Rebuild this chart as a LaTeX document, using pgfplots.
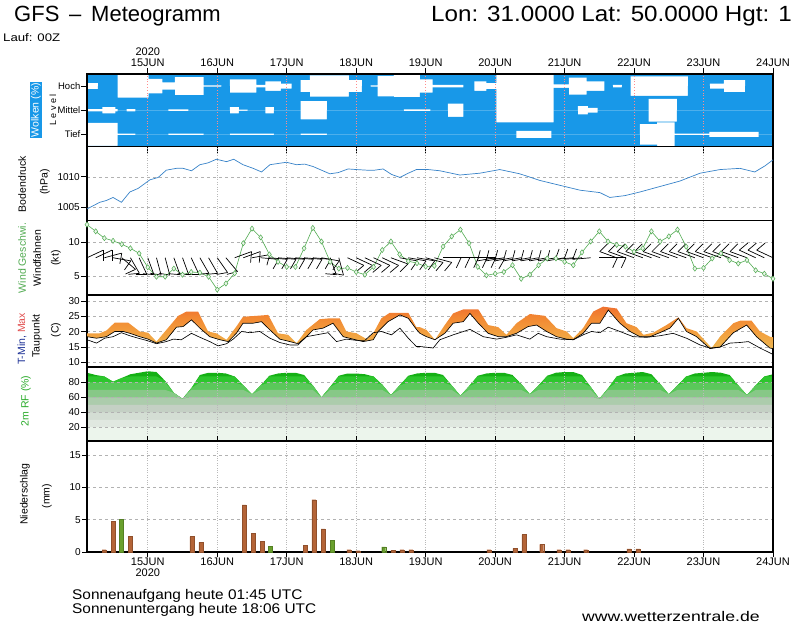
\documentclass[border=0pt]{standalone}
\usepackage{fontspec}
\setmainfont{Liberation Sans}
\usepackage{graphicx}
\usepackage{pgfplots}
\usepackage{pgfplotstable}
\pgfplotsset{compat=1.18}
\newcommand\fs[1]{\fontsize{#1}{#1}\selectfont}
\definecolor{cloudblue}{RGB}{24,152,232}
\definecolor{pblue}{RGB}{55,130,200}
\definecolor{wgreen}{RGB}{80,170,80}
\definecolor{pbrown}{RGB}{180,100,55}
\definecolor{pgreen}{RGB}{105,160,45}
\definecolor{tminblue}{RGB}{30,50,150}
\definecolor{tmaxred}{RGB}{225,80,80}
\definecolor{rfgreen}{RGB}{40,170,40}
\definecolor{tc0}{RGB}{232,190,90}
\definecolor{tc1}{RGB}{242,165,66}
\definecolor{tc2}{RGB}{242,136,50}
\definecolor{tc3}{RGB}{238,104,46}
\definecolor{tc4}{RGB}{232,64,58}
\definecolor{tc5}{RGB}{230,44,62}
\definecolor{rh20}{RGB}{236,245,236}
\definecolor{rh30}{RGB}{224,232,224}
\definecolor{rh40}{RGB}{212,222,212}
\definecolor{rh50}{RGB}{196,208,196}
\definecolor{rh60}{RGB}{172,204,172}
\definecolor{rh70}{RGB}{135,200,135}
\definecolor{rh80}{RGB}{90,200,90}
\definecolor{rh88}{RGB}{45,198,45}
\definecolor{rhdark}{RGB}{20,176,20}
\pgfdeclareverticalshading{tshade}{100bp}{color(0bp)=(tc0); color(18bp)=(tc0); color(40bp)=(tc1); color(62bp)=(tc2); color(80bp)=(tc3); color(91bp)=(tc4); color(100bp)=(tc5)}

% ---------------- data ----------------
\pgfplotstableread{
h c
3 25
6.8 0
13.6 95
24.3 60
29 30
33.4 75
43.3 5
49.4 0
52.4 55
61.5 10
64.6 40
70 20
73.7 0
76.8 50
80 88
93.5 50
98 0
101 5
103.4 85
109 92
118 55
122.4 10
133 0
136.8 40
141 25
144.4 100
164.2 15
169.5 70
175.6 40
181.7 0
184.7 10
187.8 0
190.8 80
210.6 0
218.2 20
223 50
230.4 0
240 0
}\hoch
\pgfplotstableread{
h c
3 10
8.3 25
12.8 10
13.6 0
16.7 10
19.7 0
31.1 8
38 0
52.4 25
55.5 5
58.5 0
64.6 25
67.6 0
76.8 75
85.9 0
112.5 8
121.6 0
127.7 55
133 0
144.4 100
164.2 0
172.6 35
176 20
179.4 0
197 95
206.8 0
240 0
}\mittel
\pgfplotstableread{
h c
3 95
13.6 6
19.7 0
31.1 6
43.3 0
52.4 6
67.6 0
76.8 6
85.9 0
151.3 30
163.4 0
194 85
200 100
206 6
218 22
235 0
240 0
}\tief
\pgfplotstableread{
h p
3.0 1004.7
7.4 1005.8
9.7 1006.1
12.0 1006.6
14.9 1005.8
17.8 1007.5
20.7 1008.1
24.7 1009.5
27.6 1009.9
30.4 1011.1
33.9 1011.4
36.2 1011.4
39.1 1011.0
42.0 1012.0
44.8 1012.3
47.7 1012.9
51.2 1012.5
53.7 1012.9
56.9 1012.0
60.4 1011.4
63.3 1010.8
66.2 1012.0
69.0 1012.2
71.9 1012.4
75.4 1012.0
78.2 1012.1
81.1 1011.7
84.0 1011.1
86.9 1010.5
89.8 1010.7
93.2 1011.3
96.1 1011.2
99.6 1011.1
102.4 1011.1
105.3 1011.3
108.2 1010.4
111.1 1009.9
114.0 1010.6
116.8 1011.2
120.9 1011.2
124.9 1011.0
131.8 1010.3
138.7 1010.6
145.6 1011.2
152.5 1010.5
159.5 1009.4
166.4 1008.6
173.3 1007.8
180.2 1007.4
183.6 1006.6
188.8 1006.9
194.0 1007.5
200.9 1008.4
207.8 1009.3
214.8 1010.6
221.7 1011.2
228.6 1011.4
233.7 1010.8
237.2 1011.8
240.0 1012.8
}\pres
\pgfplotstableread{
h v
3 12.6
6 11.6
9 10.6
12 10.2
15 9.7
18 9.1
21 8.35
24 6.3
27 4.9
30 4.9
33 6.1
36 5.2
39 5.6
42 5.5
45 4.9
48 3.0
51 3.9
54 5.4
57 9.85
60 12.0
63 10.7
66 8.2
69 7.1
72 6.35
75 6.35
78 9.1
81 12.1
84 10.1
87 7.1
90 6.1
93 6.2
96 5.6
99 5.2
102 6.35
105 8.85
108 10.1
111 8.2
114 7.2
117 6.9
120 6.4
123 6.5
126 9.35
129 10.85
132 11.85
135 9.85
138 6.35
141 5.1
144 5.35
147 5.6
150 6.6
153 4.6
156 5.2
159 6.6
162 7.6
165 7.6
168 7.1
171 6.6
174 8.5
177 10.1
180 11.6
183 10.1
186 9.6
189 9.35
192 8.6
195 9.1
198 11.6
201 10.1
204 10.85
207 11.85
210 9.35
213 6.1
216 6.2
219 7.6
222 8.35
225 7.35
228 6.85
231 7.35
234 5.85
237 5.35
240 4.6
}\wspd
% wind barbs: base position (h, y) and staff direction d (degrees on the page)
\pgfplotstableread{
h y d
3 7.7 25
6 7.7 25
9 7.7 15
12 7.7 -10
15 7.7 -40
18 7.7 -60
21 7.7 -65
24 7.7 -70
27 7.7 -75
30 7.7 -75
33 7.7 -70
36 7.7 -70
39 7.7 -65
42 7.7 -60
45 7.7 -60
48 7.7 -55
51 7.7 -50
54 7.7 20
57 7.7 20
60 7.7 10
63 7.7 -5
66 7.7 -5
69 7.7 -5
72 7.7 -5
75 7.7 -5
78 7.7 -5
81 7.7 -5
84 7.7 -10
87 7.7 -70
90 7.7 -75
93 7.7 -25
96 7.7 -25
99 7.7 -25
102 7.7 -25
105 7.7 -25
108 7.7 -20
111 7.7 -10
114 7.7 -10
117 7.7 -10
120 7.7 -15
123 7.7 -15
126 7.7 0
129 7.7 0
132 7.7 0
135 7.7 0
138 7.7 0
141 7.7 -5
144 7.7 190
147 7.7 190
150 7.7 190
153 7.7 190
156 7.7 190
159 7.7 190
162 7.7 190
165 7.7 190
168 7.7 190
171 7.7 185
174 7.7 185
177 7.7 185
180 7.7 0
183 7.7 0
186 7.7 160
189 7.7 160
192 7.7 160
195 7.7 160
198 7.7 160
201 7.7 160
204 7.7 160
207 7.7 160
210 7.7 160
213 7.7 160
216 7.7 160
219 7.7 160
222 7.7 160
225 7.7 160
228 7.7 160
231 7.7 160
234 7.7 155
237 7.7 155
240 7.7 155
}\barbs
% band polygon: T-max forward, then lower edge backward
\pgfplotstableread{
h t
3.0 19.5
7.4 19.5
9.7 20.4
12.6 23.0
17.2 23.0
21.2 20.1
24.1 19.7
27.0 16.8
30.4 20.6
34.5 25.2
37.4 26.6
41.4 26.6
44.8 20.1
47.7 19.5
51.2 17.4
54.6 21.7
56.9 24.9
61.5 25.2
65.6 25.5
69.0 19.5
72.5 19.0
75.4 16.3
78.8 20.6
83.4 24.1
86.9 24.4
90.3 24.4
92.6 20.1
96.1 19.5
99.6 17.6
101.9 19.5
104.7 24.4
107.6 26.2
114.0 26.2
116.8 21.5
118.0 21.5
120.3 20.6
123.2 17.4
126.6 22.2
129.5 26.0
133.0 27.3
138.2 27.3
141.6 22.2
145.1 21.5
147.9 19.0
151.4 22.8
156.0 25.8
161.2 25.2
165.2 21.2
168.7 20.1
171.0 17.9
174.4 21.2
177.9 26.6
181.3 28.2
186.0 27.6
189.4 22.8
192.9 21.5
195.2 19.0
198.6 19.7
203.2 22.2
207.3 24.7
210.1 21.2
213.6 20.1
218.8 14.7
221.7 18.4
226.3 22.8
228.6 23.6
232.6 23.6
235.5 20.1
238.9 18.4
240.0 18.2
240.0 14.5
238.9 14.7
234.3 18.4
230.9 22.2
226.3 19.7
221.7 15.0
218.2 14.5
213.6 18.4
210.1 20.1
207.3 24.4
204.4 21.2
200.9 19.7
197.5 18.4
194.0 18.4
190.6 20.1
187.1 22.8
183.1 27.1
180.2 22.8
177.3 22.8
174.4 19.5
171.0 17.4
168.7 17.6
165.2 18.4
161.8 20.1
158.3 22.2
155.4 21.7
151.4 19.5
147.9 18.4
145.1 18.4
141.6 19.5
138.2 22.8
135.3 26.0
133.0 23.3
129.5 22.8
126.6 19.5
123.2 17.4
120.3 18.4
118.0 19.5
116.8 20.8
114.0 24.4
111.1 25.5
107.0 23.3
103.6 20.1
101.9 17.4
98.4 16.8
94.9 17.6
91.5 18.4
88.0 22.8
84.6 21.2
81.1 20.6
78.8 18.4
75.9 16.1
73.1 16.8
69.6 17.6
66.2 20.6
63.3 23.3
60.4 22.8
56.9 22.8
54.6 19.5
51.8 16.8
48.9 17.4
45.4 18.4
42.0 21.2
39.1 23.9
36.2 21.7
33.9 21.5
30.4 17.4
27.0 16.3
24.1 17.6
21.2 18.4
17.8 19.5
15.5 20.1
12.6 20.1
9.7 18.4
6.3 17.9
3.0 18.4
}\tband
\pgfplotstableread{
h t
3.0 18.4
6.3 17.9
9.7 18.4
12.6 20.1
15.5 20.1
17.8 19.5
21.2 18.4
24.1 17.6
27.0 16.3
30.4 17.4
33.9 21.5
36.2 21.7
39.1 23.9
42.0 21.2
45.4 18.4
48.9 17.4
51.8 16.8
54.6 19.5
56.9 22.8
60.4 22.8
63.3 23.3
66.2 20.6
69.6 17.6
73.1 16.8
75.9 16.1
78.8 18.4
81.1 20.6
84.6 21.2
88.0 22.8
91.5 18.4
94.9 17.6
98.4 16.8
101.9 17.4
103.6 20.1
107.0 23.3
111.1 25.5
114.0 24.4
116.8 20.8
118.0 19.5
120.3 18.4
123.2 17.4
126.6 19.5
129.5 22.8
133.0 23.3
135.3 26.0
138.2 22.8
141.6 19.5
145.1 18.4
147.9 18.4
151.4 19.5
155.4 21.7
158.3 22.2
161.8 20.1
165.2 18.4
168.7 17.6
171.0 17.4
174.4 19.5
177.3 22.8
180.2 22.8
183.1 27.1
187.1 22.8
190.6 20.1
194.0 18.4
197.5 18.4
200.9 19.7
204.4 21.2
207.3 24.4
210.1 20.1
213.6 18.4
218.2 14.5
221.7 15.0
226.3 19.7
230.9 22.2
234.3 18.4
238.9 14.7
240.0 14.5
}\tlow
\pgfplotstableread{
h t
3.0 17.4
6.3 16.3
9.1 17.9
12.0 18.4
14.9 19.7
17.8 18.7
20.7 17.9
23.5 17.2
27.0 16.1
30.4 16.8
32.8 17.6
35.6 17.4
39.1 19.5
42.0 18.2
45.4 16.8
48.3 15.4
51.2 16.1
53.5 17.6
56.4 20.1
59.2 19.7
62.7 20.1
66.2 17.9
69.6 16.5
73.1 15.7
75.9 15.7
78.8 18.4
82.3 19.0
86.3 19.7
89.2 16.8
92.6 17.6
96.1 17.2
99.0 17.2
101.9 19.7
104.7 20.1
108.2 19.0
111.1 21.2
114.0 17.9
116.8 15.2
118.0 15.2
122.6 14.7
124.9 17.4
129.5 19.0
135.3 20.8
139.9 18.4
144.5 17.6
147.9 18.2
151.4 19.0
156.0 17.6
158.9 19.5
161.8 18.4
166.4 17.6
171.0 17.4
174.4 19.0
177.3 20.1
180.2 19.7
183.1 21.5
187.1 20.1
191.7 18.4
196.3 18.2
200.9 18.7
205.5 19.5
210.1 17.9
214.8 15.7
218.2 14.7
221.7 15.0
225.1 16.3
228.6 16.5
231.5 16.8
235.5 14.7
240.0 12.6
}\tdew
\pgfplotstableread{
h r
3 93
6 90
9 88
12 81
15 86
18 91
21 93
24 95
27 94
30 82
33 66
36 58
39 72
42 90
45 93
48 93
51 92
54 88
57 76
60 64
63 76
66 89
69 92
72 93
75 93
78 90
81 76
84 60
87 74
90 89
93 92
96 92
99 91
102 88
105 77
108 63
111 76
114 89
117 92
120 93
123 93
126 90
129 76
132 62
135 75
138 89
141 92
144 93
147 93
150 90
153 78
156 64
159 76
162 89
165 93
168 94
171 94
174 90
177 74
180 58
183 72
186 88
189 92
192 93
195 94
198 91
201 78
204 64
207 76
210 88
213 92
216 93
219 94
222 93
225 90
228 76
231 63
234 76
237 88
240 91
}\rhum
\pgfplotstableread{
h r
8.9 0.36
12.0 4.8
18.0 2.4
39.2 2.4
42.3 1.5
57.3 7.3
60.5 2.9
63.6 1.7
78.4 1.0
81.4 8.1
84.6 3.6
93.5 0.36
96.6 0.2
108.7 0.25
111.8 0.36
114.9 0.36
141.8 0.36
150.8 0.56
153.9 2.7
160.1 1.2
166.0 0.36
169.1 0.36
175.3 0.36
190.2 0.5
193.3 0.5
}\prbrown
\pgfplotstableread{
h r
14.9 5.1
66.4 0.9
87.7 1.8
105.5 0.8
}\prgreen

\pgfplotsset{
  panel/.style={
    scale only axis, width=686pt, xmin=3, xmax=240,
    xtick={24,48,72,96,120,144,168,192,216,240},
    xticklabels={},
    axis line style={line width=1.8pt},
    xmajorgrids, ymajorgrids,
    major x grid style={gray!55, dotted, line width=0.8pt},
    major y grid style={gray!60, dash pattern=on 3pt off 3pt, line width=0.6pt},
    ytick pos=left, tick align=outside,
    major tick length=6pt,
    tick style={black, line width=0.7pt},
    xtick style={draw=none},
    yticklabel style={font=\fs{10}, inner sep=1pt},
    xticklabel style={font=\fs{11}, align=center, inner sep=1pt},
    /pgf/number format/assume math mode=true,
    /pgf/number format/1000 sep={},
    anchor=north west,
  }
}

\begin{document}
\begin{tikzpicture}[x=1pt,y=1pt]
\path[use as bounding box] (0,0) rectangle (800,-625);

% titles
\node[anchor=base west, font=\fs{22}, inner sep=0pt] at (14,-21) {GFS \,–\, Meteogramm};
\node[anchor=base east, font=\fs{22}, inner sep=0pt] at (792,-21) {\scalebox{1.1}[1]{Lon: 31.0000 Lat: 50.0000 Hgt: 1}};
\node[anchor=base west, font=\fs{11}, inner sep=0pt] at (3,-41) {\scalebox{1.2}[1]{Lauf: 00Z}};

% ---------- clouds ----------
\begin{axis}[panel, at={(87pt,-74pt)}, height=72.5pt,
  ymin=0.5, ymax=3.5, ytick={1,2,3}, yticklabels={Tief,Mittel,Hoch},
  ymajorgrids=false, axis on top,
  ytick style={black, line width=0.7pt}, 
  yticklabel style={font=\fs{9.5}, inner sep=0.5pt},
  major x grid style={red!45, dotted, line width=0.8pt},
  xticklabel pos=right,
  xticklabels={{2020\\15JUN},16JUN,17JUN,18JUN,19JUN,20JUN,21JUN,22JUN,23JUN,24JUN},
  xtick style={draw=black, line width=0.8pt}, 
  x tick params/.append style={major tick length=8pt},
  y tick params/.append style={major tick length=3pt}]
\addplot[fill=cloudblue, draw=none] coordinates {(0,3.6) (250,3.6)} \closedcycle;
\addplot[const plot, fill=white, draw=none] table[x=h, y expr=3+\thisrow{c}/200] \hoch \closedcycle;
\addplot[const plot, fill=cloudblue, draw=none] table[x=h, y expr=3-\thisrow{c}/200] \hoch \closedcycle;
\addplot[const plot, fill=white, draw=none] table[x=h, y expr=2+\thisrow{c}/200] \mittel \closedcycle;
\addplot[const plot, fill=cloudblue, draw=none] table[x=h, y expr=2-\thisrow{c}/200] \mittel \closedcycle;
\addplot[const plot, fill=white, draw=none] table[x=h, y expr=1+\thisrow{c}/200] \tief \closedcycle;
\addplot[const plot, fill=cloudblue, draw=none] table[x=h, y expr=1-\thisrow{c}/200] \tief \closedcycle;
\end{axis}

% ---------- pressure ----------
\begin{axis}[panel, at={(87pt,-146.5pt)}, height=74pt,
  ymin=1002.8, ymax=1015, ytick={1005,1010}]
\addplot[pblue, line width=0.7pt] table[x=h,y=p] \pres;
\end{axis}

% ---------- wind ----------
\begin{axis}[panel, at={(87pt,-220.5pt)}, height=74.5pt,
  ymin=2.2, ymax=13.2, ytick={5,10}]
\addplot[wgreen, line width=0.6pt, mark=diamond*, mark size=2.6pt,
  mark options={draw=wgreen, fill=wgreen!12, line width=0.5pt}] table[x=h,y=v] \wspd;
% staffs
\addplot[black, line width=0.7pt,
  quiver={u={18*cos(\thisrow{d})/2.8945}, v={18*sin(\thisrow{d})/6.773}}]
  table[x=h,y=y] \barbs;
% feathers
\addplot[black, line width=0.7pt,
  quiver={u={11*cos(\thisrow{d}-115)/2.8945}, v={11*sin(\thisrow{d}-115)/6.773}}]
  table[x expr={\thisrow{h}+18*cos(\thisrow{d})/2.8945}, y expr={\thisrow{y}+18*sin(\thisrow{d})/6.773}] \barbs;
\end{axis}

% ---------- temperature ----------
\begin{axis}[panel, at={(87pt,-295pt)}, height=72pt,
  ymin=8.5, ymax=32, ytick={10,15,20,25,30}]
\addplot[shading=tshade, draw=none] table[x=h,y=t] \tband;
\addplot[black, line width=0.65pt] table[x=h,y=t] \tlow;
\addplot[black, line width=0.65pt] table[x=h,y=t] \tdew;
\end{axis}

% ---------- humidity ----------
\begin{axis}[panel, at={(87pt,-367pt)}, height=74pt,
  ymin=1.5, ymax=100.7, ytick={20,40,60,80}, axis on top]
\addplot[fill=rhdark, draw=none] table[x=h,y=r] \rhum \closedcycle;
\addplot[fill=rh88, draw=none] table[x=h,y expr={min(\thisrow{r},88)}] \rhum \closedcycle;
\addplot[fill=rh80, draw=none] table[x=h,y expr={min(\thisrow{r},80)}] \rhum \closedcycle;
\addplot[fill=rh70, draw=none] table[x=h,y expr={min(\thisrow{r},70)}] \rhum \closedcycle;
\addplot[fill=rh60, draw=none] table[x=h,y expr={min(\thisrow{r},60)}] \rhum \closedcycle;
\addplot[fill=rh50, draw=none] table[x=h,y expr={min(\thisrow{r},50)}] \rhum \closedcycle;
\addplot[fill=rh40, draw=none] table[x=h,y expr={min(\thisrow{r},40)}] \rhum \closedcycle;
\addplot[fill=rh30, draw=none] table[x=h,y expr={min(\thisrow{r},30)}] \rhum \closedcycle;
\addplot[fill=rh20, draw=none] table[x=h,y expr={min(\thisrow{r},20)}] \rhum \closedcycle;
\end{axis}

% ---------- precipitation ----------
\begin{axis}[panel, at={(87pt,-441pt)}, height=111pt,
  ymin=0, ymax=17.2, ytick={0,5,10,15},
  xticklabels={{15JUN\\2020},16JUN,17JUN,18JUN,19JUN,20JUN,21JUN,22JUN,23JUN,24JUN},
  xticklabel pos=left,
  xtick style={draw=black, line width=0.8pt}, major tick length=5pt]
\addplot[ybar, bar width=4pt, fill=pbrown, draw=pbrown!80!black, line width=0.3pt] table[x=h,y=r] \prbrown;
\addplot[ybar, bar width=4pt, fill=pgreen, draw=pgreen!80!black, line width=0.3pt] table[x=h,y=r] \prgreen;
\end{axis}

% left labels
\node[rotate=90, fill=cloudblue, text=white, inner sep=1.2pt, font=\fs{10.5}] at (36,-110) {Wolken (\%)};
\node[rotate=90, font=\fs{9}] at (53,-110) {L e v e l};
\node[rotate=90, font=\fs{10.5}] at (22,-184) {Bodendruck};
\node[rotate=90, font=\fs{10.5}] at (45,-182) {(hPa)};
\node[rotate=90, font=\fs{10.5}, text=wgreen] at (22,-258) {Wind Geschwi.};
\node[rotate=90, font=\fs{10.5}] at (37,-258) {Windfahnen};
\node[rotate=90, font=\fs{10.5}] at (56,-258) {(kt)};
\node[rotate=90, font=\fs{10.5}] at (22,-339) {\textcolor{tminblue}{T-Min,} \textcolor{tmaxred}{Max}};
\node[rotate=90, font=\fs{10.5}] at (37,-336) {Taupunkt};
\node[rotate=90, font=\fs{10.5}] at (56,-330) {(C)};
\node[rotate=90, font=\fs{10.5}, text=rfgreen] at (26,-401) {2m RF (\%)};
\node[rotate=90, font=\fs{10.5}] at (25,-494) {Niederschlag};
\node[rotate=90, font=\fs{10.5}] at (47,-496) {(mm)};

% bottom texts
\node[anchor=base west, font=\fs{14}, inner sep=0pt] at (72,-599) {\scalebox{1.1}[1]{Sonnenaufgang heute 01:45 UTC}};
\node[anchor=base west, font=\fs{14}, inner sep=0pt] at (72,-613) {\scalebox{1.1}[1]{Sonnenuntergang heute 18:06 UTC}};
\node[anchor=base west, font=\fs{14}, inner sep=0pt] at (582,-621) {\scalebox{1.26}[1]{www.wetterzentrale.de}};
\end{tikzpicture}
\end{document}
